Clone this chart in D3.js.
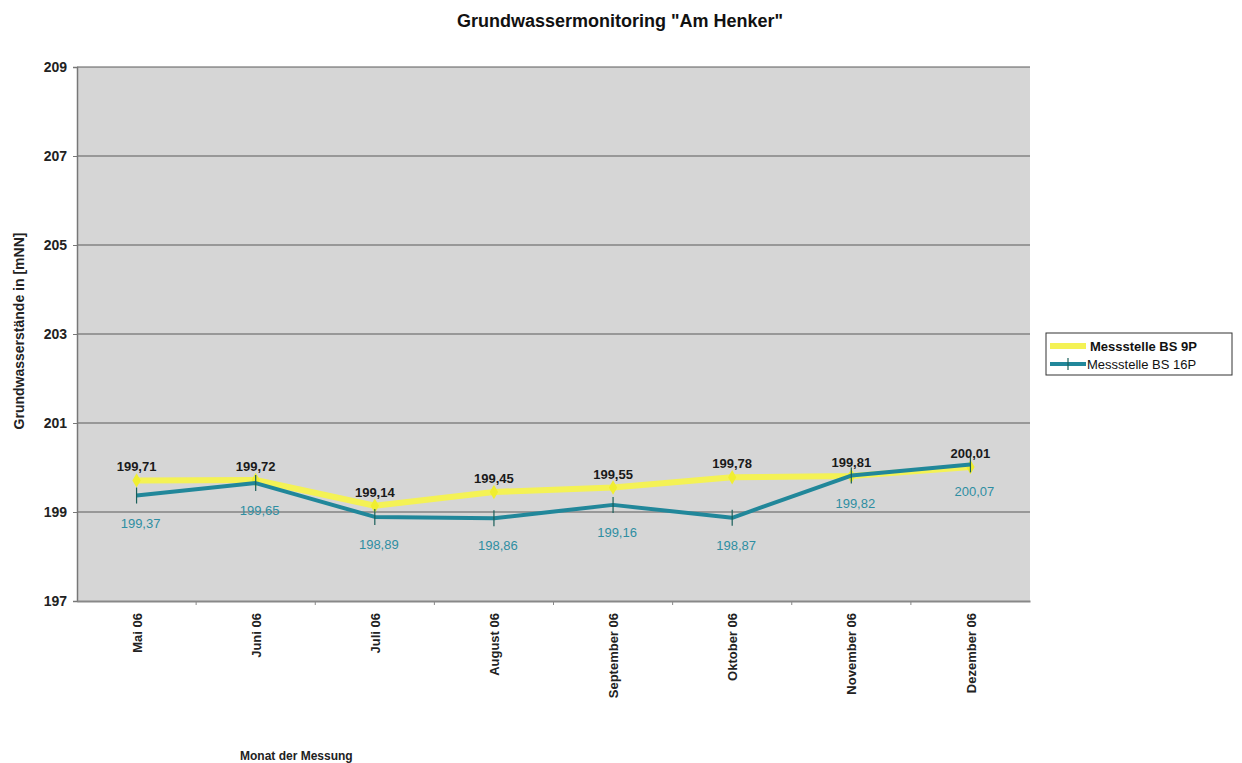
<!DOCTYPE html>
<html>
<head>
<meta charset="utf-8">
<script src="https://cdn.jsdelivr.net/npm/d3@7"></script>
<style>
  body { margin: 0; background: #fff; }
  text { font-family: "Liberation Sans", Arial, sans-serif; }
</style>
</head>
<body>
<script>
const width = 1242;
const height = 763;

// Data
const months = ["Mai 06", "Juni 06", "Juli 06", "August 06", "September 06", "Oktober 06", "November 06", "Dezember 06"];
const bs9p = [199.71, 199.72, 199.14, 199.45, 199.55, 199.78, 199.81, 200.01];
const bs16p = [199.37, 199.65, 198.89, 198.86, 199.16, 198.87, 199.82, 200.07];
const yTicks = [197, 199, 201, 203, 205, 207, 209];

const margin = {left: 77, right: 212, top: 67, bottom: 162};
const plotW = width - margin.left - margin.right;
const plotH = height - margin.top - margin.bottom;

const svg = d3.select("body").append("svg")
    .attr("width", width)
    .attr("height", height);

const x = d3.scalePoint()
    .domain(months)
    .range([0, plotW])
    .padding(0.5);

const xBand = d3.scaleBand()
    .domain(months)
    .range([0, plotW]);

const y = d3.scaleLinear()
    .domain([197, 209])
    .range([plotH, 0]);

const fmt = v => d3.format(".2f")(v).replace(".", ",");

// Title
svg.append("text")
    .attr("x", 620)
    .attr("y", 27)
    .attr("text-anchor", "middle")
    .attr("font-size", 18)
    .attr("font-weight", "bold")
    .attr("fill", "#111")
    .text('Grundwassermonitoring "Am Henker"');

const g = svg.append("g")
    .attr("transform", `translate(${margin.left},${margin.top})`);

// Plot background
g.append("rect")
    .attr("width", plotW)
    .attr("height", plotH)
    .attr("fill", "#d6d6d6");

// Gridlines
g.selectAll(".grid")
    .data(yTicks.slice(1))
    .enter().append("line")
    .attr("x1", 0)
    .attr("x2", plotW)
    .attr("y1", d => y(d))
    .attr("y2", d => y(d))
    .attr("stroke", "#5a5a5a")
    .attr("stroke-width", 1);

// Y axis
const yAxis = g.append("g")
    .call(d3.axisLeft(y).tickValues(yTicks).tickSize(4).tickFormat(d3.format("d")));
yAxis.select(".domain").attr("stroke", "#777").attr("stroke-width", 1.5);
yAxis.selectAll(".tick line").attr("stroke", "#777");
yAxis.selectAll("text")
    .attr("font-size", 14)
    .attr("font-weight", "bold")
    .attr("fill", "#222")
    .attr("x", -10)
    .attr("font-family", "Liberation Sans, Arial, sans-serif");

// X axis
const xAxis = g.append("g")
    .attr("transform", `translate(0,${plotH})`)
    .call(d3.axisBottom(x).tickSize(0));
xAxis.select(".domain").attr("stroke", "#888").attr("stroke-width", 2);
xAxis.selectAll("text")
    .attr("font-size", 13)
    .attr("font-weight", "bold")
    .attr("fill", "#222")
    .attr("font-family", "Liberation Sans, Arial, sans-serif")
    .attr("transform", "rotate(-90)")
    .attr("text-anchor", "end")
    .attr("x", -12)
    .attr("y", 0)
    .attr("dy", "0.35em");

// tick marks between categories
g.selectAll(".xtick")
    .data(months.slice(1))
    .enter().append("line")
    .attr("x1", d => xBand(d))
    .attr("x2", d => xBand(d))
    .attr("y1", plotH)
    .attr("y2", plotH + 4)
    .attr("stroke", "#888");

// Axis titles
svg.append("text")
    .attr("transform", `translate(24,${margin.top + 264}) rotate(-90)`)
    .attr("text-anchor", "middle")
    .attr("font-size", 14)
    .attr("font-weight", "bold")
    .attr("fill", "#222")
    .text("Grundwasserstände in [mNN]");

svg.append("text")
    .attr("x", 240)
    .attr("y", 760)
    .attr("font-size", 12)
    .attr("font-weight", "bold")
    .attr("fill", "#222")
    .text("Monat der Messung");

// Lines
const yellow = "#f4f255";
const teal = "#21879a";

const line = d3.line()
    .x((d, i) => x(months[i]))
    .y(d => y(d));

g.append("path")
    .datum(bs9p)
    .attr("d", line)
    .attr("fill", "none")
    .attr("stroke", yellow)
    .attr("stroke-width", 6)
    .attr("stroke-linejoin", "round");

g.selectAll(".m9")
    .data(bs9p)
    .enter().append("path")
    .attr("d", d3.symbol().type(d3.symbolDiamond).size(60))
    .attr("transform", (d, i) => `translate(${x(months[i])},${y(d)})`)
    .attr("fill", "#f0ee30");

g.append("path")
    .datum(bs16p)
    .attr("d", line)
    .attr("fill", "none")
    .attr("stroke", teal)
    .attr("stroke-width", 4)
    .attr("stroke-linejoin", "round");

g.selectAll(".m16v")
    .data(bs16p)
    .enter().append("line")
    .attr("x1", (d, i) => x(months[i]))
    .attr("x2", (d, i) => x(months[i]))
    .attr("y1", d => y(d) - 8)
    .attr("y2", d => y(d) + 8)
    .attr("stroke", "#1a5f5a")
    .attr("stroke-width", 1.2);

// Data labels
g.selectAll(".l9")
    .data(bs9p)
    .enter().append("text")
    .attr("x", (d, i) => x(months[i]))
    .attr("y", d => y(d) - 9)
    .attr("text-anchor", "middle")
    .attr("font-size", 13)
    .attr("font-weight", "bold")
    .attr("fill", "#1a1a1a")
    .text(fmt);

g.selectAll(".l16")
    .data(bs16p)
    .enter().append("text")
    .attr("x", (d, i) => x(months[i]) + 4)
    .attr("y", d => y(d) + 32)
    .attr("text-anchor", "middle")
    .attr("font-size", 13)
    .attr("fill", "#2e8ea2")
    .text(fmt);

// Legend
const lg = svg.append("g").attr("transform", "translate(1046,333)");
lg.append("rect")
    .attr("width", 186)
    .attr("height", 42)
    .attr("fill", "#fff")
    .attr("stroke", "#333")
    .attr("stroke-width", 1);
lg.append("line")
    .attr("x1", 4).attr("x2", 40)
    .attr("y1", 13).attr("y2", 13)
    .attr("stroke", yellow).attr("stroke-width", 6);
lg.append("text")
    .attr("x", 44).attr("y", 18)
    .attr("font-size", 13).attr("font-weight", "bold")
    .attr("fill", "#111")
    .text("Messstelle BS 9P");
lg.append("line")
    .attr("x1", 4).attr("x2", 40)
    .attr("y1", 31).attr("y2", 31)
    .attr("stroke", teal).attr("stroke-width", 4);
lg.append("line")
    .attr("x1", 22).attr("x2", 22)
    .attr("y1", 25).attr("y2", 37)
    .attr("stroke", "#1a5f5a").attr("stroke-width", 1.2);
lg.append("text")
    .attr("x", 41).attr("y", 36)
    .attr("font-size", 13)
    .attr("fill", "#111")
    .text("Messstelle BS 16P");
</script>
</body>
</html>
